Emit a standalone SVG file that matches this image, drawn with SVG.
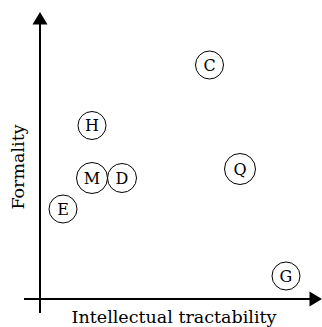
<svg xmlns="http://www.w3.org/2000/svg" width="322" height="327" viewBox="0 0 322 327">
<style>
.ax{stroke:#000;stroke-width:2;fill:none}
.nd circle{fill:#fff;stroke:#000;stroke-width:1}
.nd text{font-family:"DejaVu Serif","Liberation Serif",serif;font-size:16px;text-anchor:middle;dominant-baseline:central;fill:#000}
.lbl{font-family:"DejaVu Serif","Liberation Serif",serif;font-size:17.5px;fill:#000}
</style>
<g id="connectors">
<line class="ax" x1="40" y1="313" x2="40" y2="22"/>
<polygon points="40,12 32.5,24.5 47.5,24.5" fill="#000"/>
<line class="ax" x1="24" y1="299" x2="312" y2="299"/>
<polygon points="322,299 309.5,291.5 309.5,306.5" fill="#000"/>
</g>
<g id="C" class="nd"><circle cx="209.5" cy="65" r="14"/><text x="209.5" y="65">C</text></g>
<g id="H" class="nd"><circle cx="92" cy="125.5" r="14"/><text x="92" y="125.5">H</text></g>
<g id="M" class="nd"><circle cx="92" cy="178" r="15.5"/><text x="92" y="178">M</text></g>
<g id="D" class="nd"><circle cx="122" cy="178" r="14.5"/><text x="122" y="178">D</text></g>
<g id="Q" class="nd"><circle cx="240" cy="169" r="15.5"/><text x="240" y="169">Q</text></g>
<g id="E" class="nd"><circle cx="63" cy="209" r="14"/><text x="63" y="209">E</text></g>
<g id="G" class="nd"><circle cx="286" cy="276" r="14"/><text x="286" y="276">G</text></g>
<text class="lbl" x="174" y="323" text-anchor="middle">Intellectual tractability</text>
<text class="lbl" transform="translate(24,167) rotate(-90)" text-anchor="middle">Formality</text>
</svg>
